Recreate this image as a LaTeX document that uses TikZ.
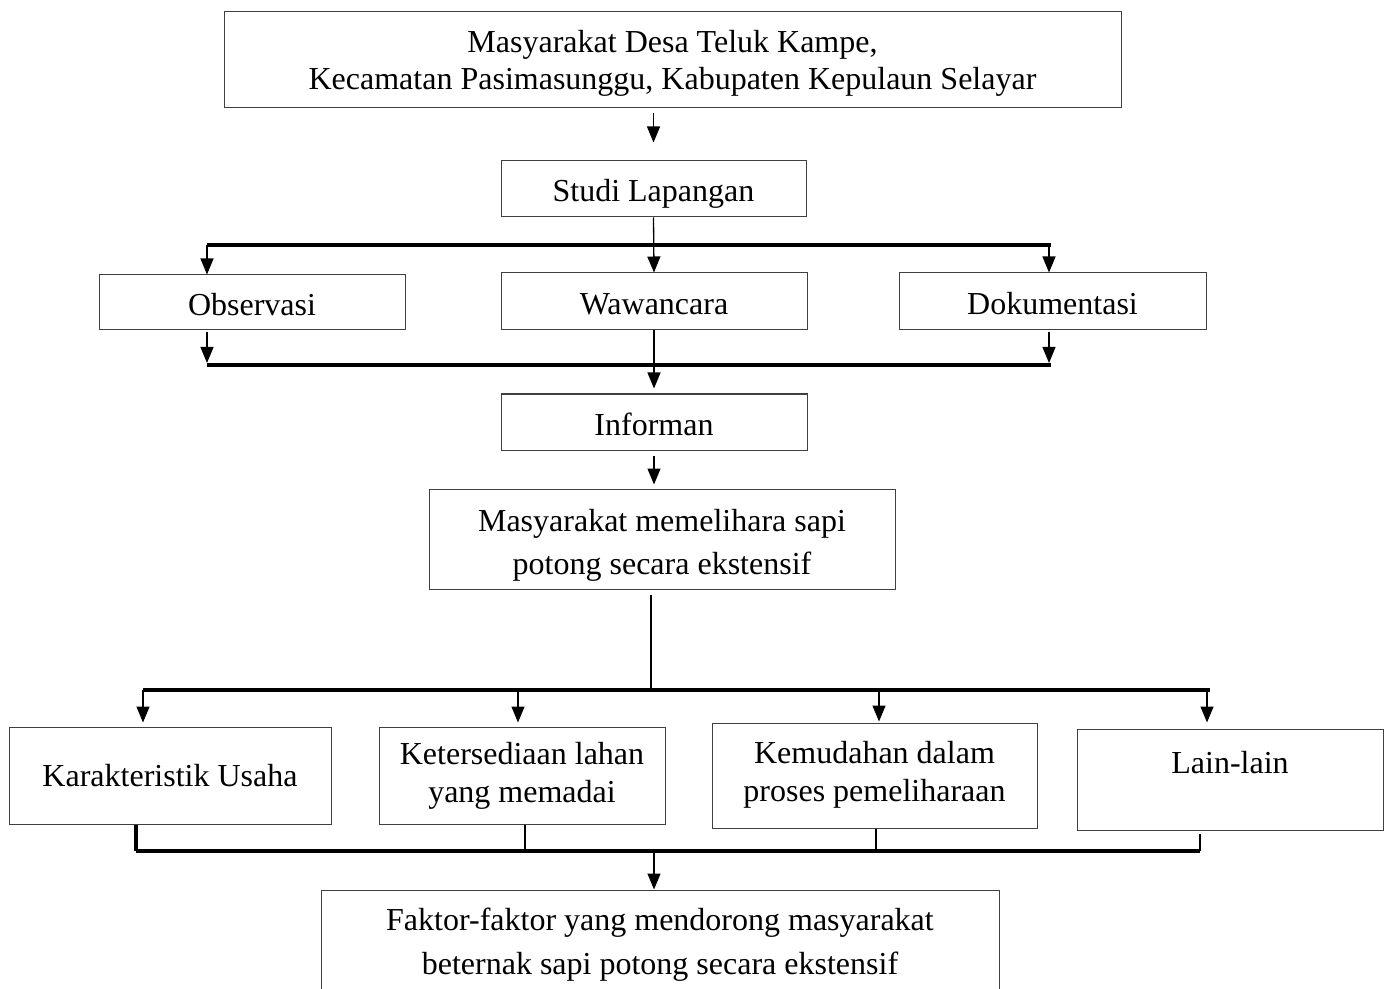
\documentclass[tikz,border=0pt]{standalone}
\usepackage{fontspec}
\setmainfont{Liberation Serif}
\usetikzlibrary{arrows.meta}
% #1: distance from box centre down to the last baseline, #2: line spacing, #3: lines
\newcommand{\boxtext}[3]{\makebox[0pt]{\raisebox{-#1}[0pt][0pt]{\fontsize{16}{#2}\selectfont
  \begin{tabular}[b]{@{}c@{}}#3\end{tabular}}}}
\begin{document}
\begin{tikzpicture}[x=0.5pt,y=-0.5pt,
  box/.style={draw=black!75, line width=0.5pt, rectangle, inner sep=0pt},
  conn/.style={line width=0.65pt},
  arr/.style={conn,-{Triangle[width=6.5pt,length=8pt]}},
  thick conn/.style={line width=1.35pt},
  bar/.style={line width=1.65pt}]
\useasboundingbox (0,0) rectangle (1391,989);

% boxes
\node[box, minimum width=448.5pt, minimum height=48pt] (top) at (672.5,60)
  {\boxtext{15pt}{18.5pt}{Masyarakat Desa Teluk Kampe,\\Kecamatan Pasimasunggu, Kabupaten Kepulaun Selayar}};
\node[box, minimum width=152.5pt, minimum height=28pt] (studi) at (653.5,189) {\boxtext{6.5pt}{18pt}{Studi Lapangan}};
\node[box, minimum width=153pt, minimum height=27.5pt] (obs) at (252,302.5) {\boxtext{6.5pt}{18pt}{Observasi}};
\node[box, minimum width=153pt, minimum height=28.5pt] (waw) at (654,301.5) {\boxtext{6.75pt}{18pt}{Wawancara}};
\node[box, minimum width=153.5pt, minimum height=28.5pt] (dok) at (1052.5,301.5) {\boxtext{6.75pt}{18pt}{Dokumentasi}};
\node[box, minimum width=153pt, minimum height=28pt] (inf) at (654,422) {\boxtext{6.5pt}{18pt}{Informan}};
\node[box, minimum width=233pt, minimum height=50pt] (mas) at (662,539)
  {\boxtext{17.5pt}{21.5pt}{Masyarakat memelihara sapi\\potong secara ekstensif}};
\node[box, minimum width=161pt, minimum height=48.5pt] (kar) at (170,775.5) {\boxtext{5.25pt}{18pt}{Karakteristik Usaha}};
\node[box, minimum width=143pt, minimum height=48.5pt] (ket) at (522,775.5)
  {\boxtext{13.25pt}{19pt}{Ketersediaan lahan\\yang memadai}};
\node[box, minimum width=162.5pt, minimum height=52.5pt] (kem) at (874.5,775.5)
  {\boxtext{12.75pt}{19pt}{Kemudahan dalam\\proses pemeliharaan}};
\node[box, minimum width=153pt, minimum height=50.5pt] (lain) at (1230,779.5) {\boxtext{-3.25pt}{18pt}{Lain-lain}};
\node[box, minimum width=339pt, minimum height=50.5pt] (fak) at (660,940.5)
  {\boxtext{16.75pt}{22pt}{Faktor-faktor yang mendorong masyarakat\\beternak sapi potong secara ekstensif}};

% bar coordinates
\coordinate (b1l) at (207,245);
\coordinate (b1r) at (1051,245);
\coordinate (b2l) at (207,365);
\coordinate (b2r) at (1051,365);
\coordinate (b3m) at (651,690);
\coordinate (b3l) at (143,690);
\coordinate (b3r) at (1210,690);
\coordinate (a3) at (518,690);
\coordinate (a4) at (879,690);
\coordinate (a5) at (1207,690);
\coordinate (b4l) at (136,851);
\coordinate (b4r) at (1200,851);
\coordinate (b4m) at (654,851);
\coordinate (k2) at (525,851);
\coordinate (k3) at (876,851);

% top to studi
\draw[arr, shorten <=2.5pt, shorten >=9pt] (studi.north |- top.south) -- (studi.north);
% studi to wawancara
\draw[arr] (studi.south) -- (waw.north);
% first bar
\draw[bar] (b1l) -- (b1r);
\draw[arr] (b1l) -- (b1l |- obs.north);
\draw[arr] ([xshift=-1pt]b1r) -- ([xshift=-1pt]b1r |- dok.north);
% obs, dok down to second bar
\draw[arr, shorten <=1pt, shorten >=1pt] (b2l |- obs.south) -- (b2l);
\draw[arr, shorten <=1pt, shorten >=1pt] ([xshift=-1pt]b2r |- dok.south) -- ([xshift=-1pt]b2r);
\draw[bar] (b2l) -- (b2r);
% wawancara to informan
\draw[arr, shorten >=2.5pt] (waw.south) -- (inf.north);
% informan to masyarakat
\draw[arr, shorten <=2.5pt, shorten >=2pt] (inf.south) -- (inf.south |- mas.north);
% masyarakat to third bar
\draw[thick conn, shorten <=2.5pt] (b3m |- mas.south) -- (b3m);
\draw[bar] (b3l) -- (b3r);
\draw[arr, shorten >=2pt] (b3l) -- (b3l |- kar.north);
\draw[arr, shorten >=2pt] (a3) -- (a3 |- ket.north);
\draw[arr, shorten >=0.5pt] (a4) -- (a4 |- kem.north);
\draw[arr, shorten >=3pt] (a5) -- (a5 |- lain.north);
% bottom collectors
\draw[bar] (b4l |- kar.south) -- (b4l);
\draw[thick conn] (k2 |- ket.south) -- (k2);
\draw[thick conn] (k3 |- kem.south) -- (k3);
\draw[thick conn] ([yshift=-1.5pt]b4r |- lain.south) -- (b4r);
\draw[bar] (b4l) -- (b4r);
\draw[arr] (b4m) -- (b4m |- fak.north);
\end{tikzpicture}
\end{document}
